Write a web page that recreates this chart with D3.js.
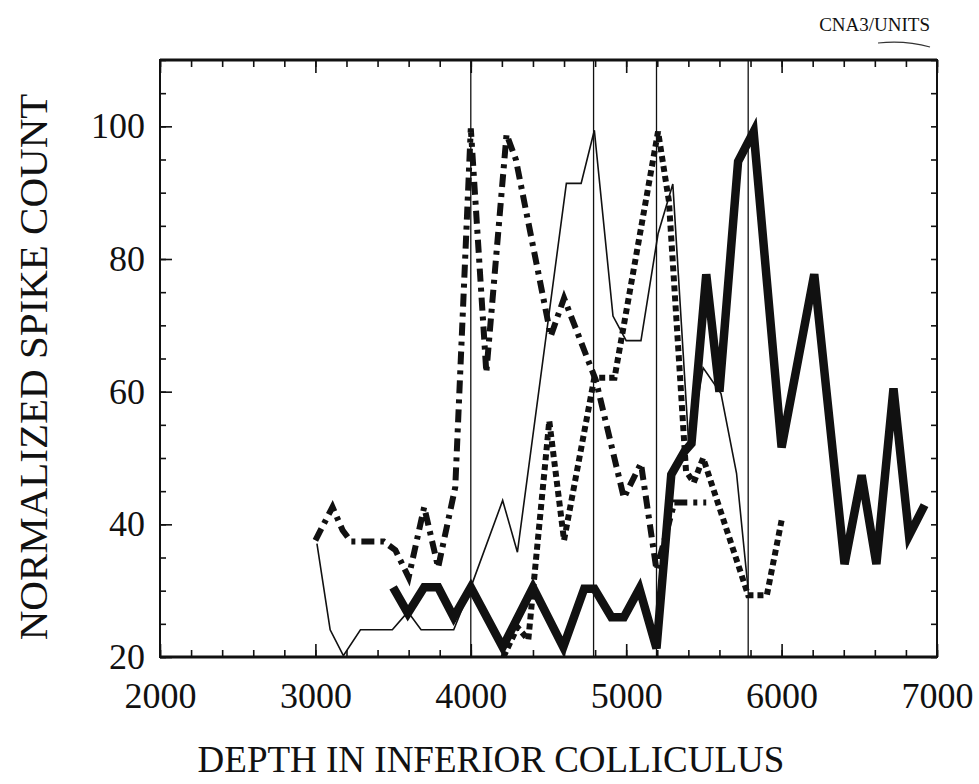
<!DOCTYPE html>
<html>
<head>
<meta charset="utf-8">
<script src="https://cdn.jsdelivr.net/npm/d3@7"></script>
<style>
  body { margin: 0; background: #fff; }
  svg { display: block; }
  text { font-family: "Liberation Serif", "DejaVu Serif", serif; fill: #111; }
</style>
</head>
<body>
<svg></svg>
<script>
var width = 979;
var height = 784;
var margin = {left: 160, right: 42, top: 60, bottom: 127};

// depth (x) / normalized spike count (y)
var thinLine = [[3010, 37.1], [3095, 24.1], [3180, 20.2], [3290, 24.1], [3495, 24.1], [3595, 26.8],
  [3680, 24.1], [3890, 24.1], [4000, 30.5], [4205, 43.6], [4300, 35.8], [4615, 91.4],
  [4710, 91.4], [4795, 99.4], [4915, 71.4], [5000, 67.7], [5095, 67.7], [5205, 83.8],
  [5300, 91.3], [5405, 51.1], [5495, 63.6], [5610, 59.7], [5710, 47.7], [5785, 30.1]];

var thickLine = [[3500, 30.5], [3595, 26.6], [3700, 30.5], [3790, 30.5], [3890, 26], [4000, 30.5],
  [4205, 21.5], [4400, 30.5], [4595, 21.5], [4730, 30.3], [4795, 30.3], [4905, 26],
  [4985, 26], [5085, 30.3], [5195, 21.3], [5290, 47.5], [5375, 51], [5420, 52.2],
  [5515, 77.7], [5600, 60], [5720, 94.7], [5820, 99.2], [6000, 51.6], [6210, 77.7],
  [6405, 34], [6515, 47.4], [6610, 34], [6720, 60.5], [6820, 38.3], [6920, 42.9]];

var dashDotLine = [[3000, 37.6], [3110, 42.6], [3175, 39.1], [3230, 37.4], [3440, 37.4], [3515, 36.1],
  [3600, 32], [3700, 42.6], [3790, 33.5], [3900, 45.6], [4000, 99.7], [4100, 62.9],
  [4230, 98.8], [4290, 95], [4515, 68.4], [4600, 74.1], [4805, 61.7], [4985, 44],
  [5095, 49.2], [5195, 33.1], [5310, 43.3], [5515, 43.3]];

var dottedLine = [[4210, 20], [4300, 24.5], [4370, 22.6], [4505, 55.6], [4600, 37.6], [4795, 62.1],
  [4925, 62.1], [5205, 99.2], [5275, 88.7], [5385, 48], [5435, 46.3], [5495, 50],
  [5785, 29.3], [5905, 29.3], [6000, 40.6]];

var markerDepths = [4000, 4790, 5195, 5785];
var xTickValues = [2000, 3000, 4000, 5000, 6000, 7000];
var yTickValues = [20, 40, 60, 80, 100];

var svg = d3.select("svg")
    .attr("width", width)
    .attr("height", height);

var xScale = d3.scaleLinear()
    .domain([2000, 7000])
    .range([margin.left, width - margin.right]);

var yScale = d3.scaleLinear()
    .domain([20, 110])
    .range([height - margin.bottom, margin.top]);

var x0 = xScale.range()[0], x1 = xScale.range()[1];
var y0 = yScale.range()[0], y1 = yScale.range()[1];

// minor ticks every 200 on x, every 5 on y, all pointing inward
var xMinor = d3.range(2000, 7001, 200);
var yMinor = d3.range(20, 111, 5);

svg.append("g")
    .attr("transform", "translate(0," + y0 + ")")
    .call(d3.axisBottom(xScale).tickValues(xMinor).tickSize(-7).tickFormat(""))
    .call(g => g.select(".domain").remove());
svg.append("g")
    .attr("transform", "translate(0," + y0 + ")")
    .call(d3.axisBottom(xScale).tickValues(xTickValues).tickSize(-13).tickPadding(25).tickFormat(d3.format("d")))
    .call(g => g.select(".domain").remove())
    .call(g => g.selectAll("text").style("font-size", "36px").style("font-family", "Liberation Serif"));

svg.append("g")
    .attr("transform", "translate(0," + y1 + ")")
    .call(d3.axisTop(xScale).tickValues(xMinor).tickSize(-7).tickFormat(""))
    .call(g => g.select(".domain").remove());
svg.append("g")
    .attr("transform", "translate(0," + y1 + ")")
    .call(d3.axisTop(xScale).tickValues(xTickValues).tickSize(-13).tickFormat(""))
    .call(g => g.select(".domain").remove());

svg.append("g")
    .attr("transform", "translate(" + x0 + ",0)")
    .call(d3.axisLeft(yScale).tickValues(yMinor).tickSize(-6).tickFormat(""))
    .call(g => g.select(".domain").remove());
svg.append("g")
    .attr("transform", "translate(" + x0 + ",0)")
    .call(d3.axisLeft(yScale).tickValues(yTickValues).tickSize(-12).tickPadding(15))
    .call(g => g.select(".domain").remove())
    .call(g => g.selectAll("text").style("font-size", "36px").style("font-family", "Liberation Serif"));

svg.append("g")
    .attr("transform", "translate(" + x1 + ",0)")
    .call(d3.axisRight(yScale).tickValues(yMinor).tickSize(-6).tickFormat(""))
    .call(g => g.select(".domain").remove());

svg.selectAll(".tick line").attr("stroke", "#111").attr("stroke-width", 1.6);

// frame
svg.append("rect")
    .attr("x", x0)
    .attr("y", y1)
    .attr("width", x1 - x0)
    .attr("height", y0 - y1)
    .attr("fill", "none")
    .attr("stroke", "#111")
    .attr("stroke-width", 2);
svg.append("line")
    .attr("x1", x0).attr("x2", x1)
    .attr("y1", y1).attr("y2", y1)
    .attr("stroke", "#111").attr("stroke-width", 3);
svg.append("line")
    .attr("x1", x0).attr("x2", x1)
    .attr("y1", y0).attr("y2", y0)
    .attr("stroke", "#111").attr("stroke-width", 3);

// vertical marker lines
svg.selectAll(".marker")
    .data(markerDepths)
  .enter()
    .append("line")
    .attr("class", "marker")
    .attr("x1", d => xScale(d))
    .attr("x2", d => xScale(d))
    .attr("y1", y1)
    .attr("y2", y0)
    .attr("stroke", "#111")
    .attr("stroke-width", 1.3);

var line = d3.line()
    .x(d => xScale(d[0]))
    .y(d => yScale(d[1]));

svg.append("path")
    .datum(thinLine)
    .attr("d", line)
    .attr("fill", "none")
    .attr("stroke", "#111")
    .attr("stroke-width", 1.6);

svg.append("path")
    .datum(dottedLine)
    .attr("d", line)
    .attr("fill", "none")
    .attr("stroke", "#111")
    .attr("stroke-width", 6)
    .attr("stroke-dasharray", "6,4");

svg.append("path")
    .datum(dashDotLine)
    .attr("d", line)
    .attr("fill", "none")
    .attr("stroke", "#111")
    .attr("stroke-width", 6)
    .attr("stroke-dasharray", "13,6,4,6");

svg.append("path")
    .datum(thickLine)
    .attr("d", line)
    .attr("fill", "none")
    .attr("stroke", "#111")
    .attr("stroke-width", 8.5)
    .attr("stroke-linejoin", "miter");

// axis titles
svg.append("text")
    .attr("x", 491)
    .attr("y", 772)
    .style("text-anchor", "middle")
    .style("font-size", "37px")
    .text("DEPTH IN INFERIOR COLLICULUS");

svg.append("text")
    .attr("transform", "rotate(-90)")
    .attr("x", -367)
    .attr("y", 47)
    .style("text-anchor", "middle")
    .style("font-size", "41px")
    .text("NORMALIZED SPIKE COUNT");

svg.append("text")
    .attr("x", 930)
    .attr("y", 31)
    .style("text-anchor", "end")
    .style("font-size", "19px")
    .text("CNA3/UNITS");

svg.append("path")
    .attr("d", "M878,43 Q905,40 930,47")
    .attr("fill", "none")
    .attr("stroke", "#333")
    .attr("stroke-width", 1.2);
</script>
</body>
</html>
